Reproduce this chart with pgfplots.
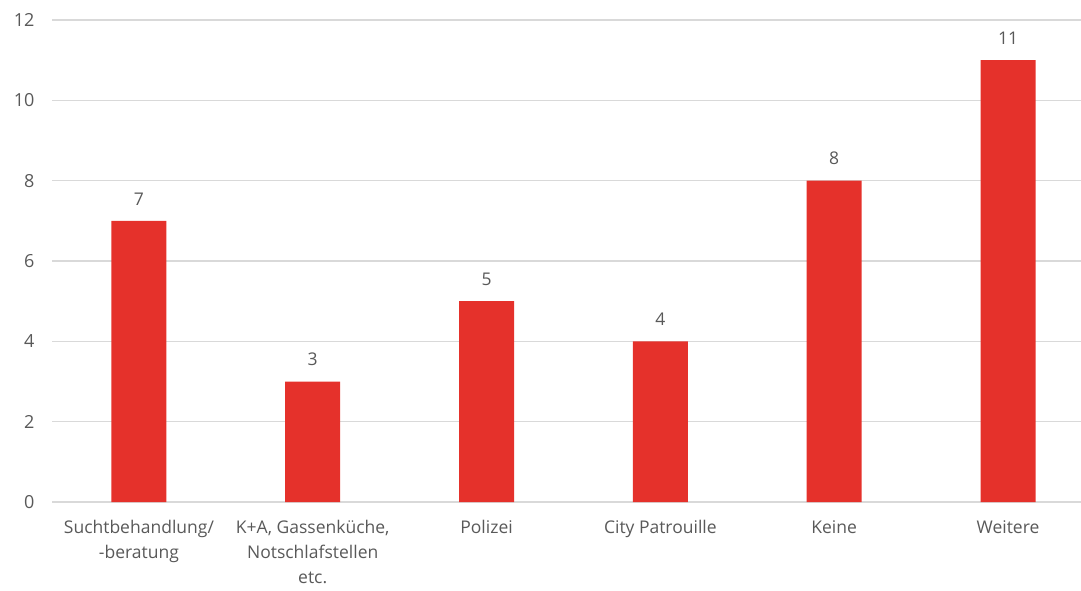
\documentclass[border=0pt]{standalone}
\usepackage{pgfplots}
\pgfplotsset{compat=1.18}
\usepackage{fontspec}
\setmainfont{Open Sans}
\usetikzlibrary{calc}
\definecolor{barred}{HTML}{E5312B}
\definecolor{txtgray}{HTML}{595959}
\definecolor{gridgray}{HTML}{D9D9D9}
\begin{document}
\begin{tikzpicture}
\begin{axis}[
  name=ax,
  scale only axis,
  width=1029pt, height=482pt,
  xmin=-0.5, xmax=5.42,
  ymin=0, ymax=12,
  ytick={0,2,...,12},
  xtick={0,1,2,3,4,5},
  xticklabels={{Suchtbehandlung/\\-beratung},{K+A, Gassenküche,\\Notschlafstellen\\etc.},{Polizei},{City Patrouille},{Keine},{Weitere}},
  xticklabel style={align=center, font=\fontsize{17.5}{25}\selectfont, text=txtgray, yshift=-15pt},
  yticklabel style={font=\fontsize{18}{20}\selectfont, text=txtgray, xshift=-14pt},
  /pgf/number format/assume math mode=true,
  axis line style={draw=none},
  major tick length=0pt,
  ymajorgrids,
  grid style={draw=gridgray, line width=1.2pt},
  clip=false,
  nodes near coords,
  every node near coord/.append style={font=\fontsize{17.5}{20}\selectfont, text=txtgray, yshift=12pt},
]
\addplot[ybar, bar width=55pt, fill=barred, draw=none] coordinates {(0,7) (1,3) (2,5) (3,4) (4,8) (5,11)};
\end{axis}
\pgfresetboundingbox
\path[use as bounding box] ($(ax.south west)+(-52pt,-88pt)$) rectangle ($(ax.north east)+(0,20pt)$);
\end{tikzpicture}
\end{document}
